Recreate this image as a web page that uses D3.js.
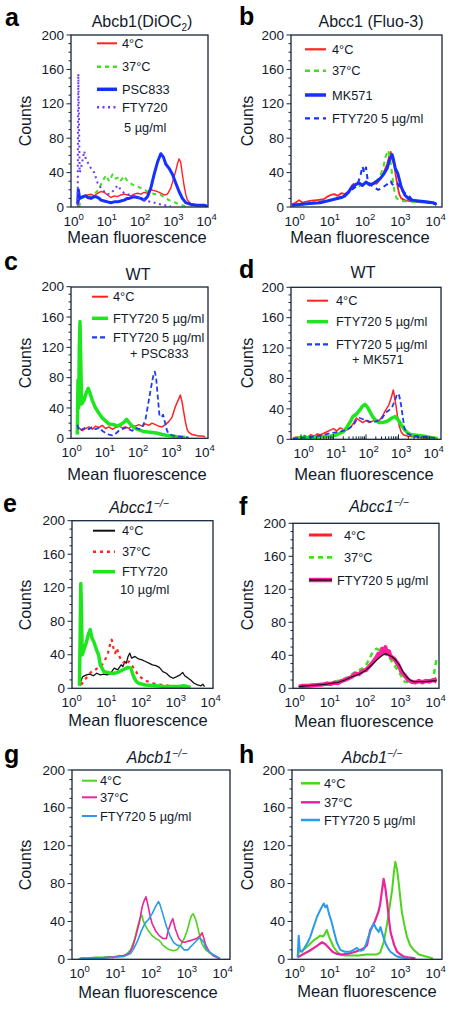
<!DOCTYPE html>
<html><head><meta charset="utf-8">
<script src="https://cdn.jsdelivr.net/npm/d3@7"></script>
<style>
body{margin:0;background:#fff}
svg{display:block}
text{font-family:"Liberation Sans",Arial,Helvetica,sans-serif;fill:#111a2b}
</style>
</head><body>
<svg id="chart" width="469" height="1013"></svg>
<script>
// ---------- DATA: [log10(fluorescence), counts] ----------
const yTickValues = [0,40,80,120,160,200];
const xTickExponents = [0,1,2,3,4];

// panel a  Abcb1(DiOC2)
const a_4C = [[0.2,0],[0.25,8],[0.3,12],[0.4,12],[0.5,14],[0.6,15],[0.7,13],[0.8,16],[0.9,18],[1.0,17],[1.1,14],[1.2,11],[1.3,13],[1.4,12],[1.5,14],[1.6,15],[1.7,14],[1.8,13],[1.9,15],[2.0,16],[2.1,15],[2.2,17],[2.3,16],[2.4,20],[2.5,19],[2.6,18],[2.7,16],[2.8,14],[2.9,15],[3.0,22],[3.1,35],[3.15,42],[3.2,50],[3.25,56],[3.3,52],[3.35,38],[3.4,25],[3.45,15],[3.5,8],[3.6,4],[3.7,3],[3.8,2],[3.9,2],[4.0,2],[4.1,1]];
const a_37C = [[0.25,0],[0.3,10],[0.4,11],[0.5,12],[0.6,13],[0.7,15],[0.8,19],[0.85,22],[0.95,30],[1.05,37],[1.15,30],[1.25,38],[1.35,33],[1.45,35],[1.5,31],[1.6,36],[1.7,30],[1.78,28],[1.85,26],[2.0,24],[2.1,22],[2.2,20],[2.3,18],[2.4,17],[2.5,15],[2.6,15],[2.7,14],[2.85,10],[3.0,7],[3.15,5],[3.3,2],[3.5,1]];
const a_PSC833 = [[0.2,3],[0.22,20],[0.26,10],[0.35,12],[0.45,13],[0.5,11],[0.6,10],[0.7,12],[0.75,12],[0.85,10],[0.9,8],[1.0,7],[1.1,6],[1.2,5],[1.3,6],[1.4,6],[1.5,7],[1.6,8],[1.7,10],[1.75,10],[1.9,12],[2.0,11],[2.1,10],[2.2,8],[2.3,12],[2.4,22],[2.5,38],[2.6,52],[2.7,62],[2.78,58],[2.85,50],[2.95,45],[3.05,38],[3.15,28],[3.25,18],[3.35,10],[3.45,5],[3.6,3],[3.8,2],[4.0,2],[4.1,1]];
const a_FTY = [[0.2,2],[0.21,80],[0.22,155],[0.24,100],[0.26,40],[0.3,45],[0.35,55],[0.4,65],[0.45,55],[0.5,52],[0.6,45],[0.7,40],[0.8,28],[0.9,22],[1.0,18],[1.1,15],[1.2,16],[1.3,20],[1.4,25],[1.5,20],[1.6,16],[1.8,14],[2.0,12],[2.2,8],[2.4,6],[2.6,4],[2.8,2],[3.0,1]];

// panel b  Abcc1 (Fluo-3)
const b_4C = [[0,3],[0.1,5],[0.2,8],[0.3,5],[0.5,7],[0.7,8],[0.9,9],[1.0,12],[1.1,14],[1.2,15],[1.3,13],[1.4,16],[1.5,15],[1.6,18],[1.7,25],[1.75,27],[1.8,25],[1.9,28],[2.0,26],[2.1,29],[2.2,25],[2.3,28],[2.4,27],[2.5,32],[2.6,40],[2.7,50],[2.75,58],[2.8,64],[2.85,55],[2.9,48],[2.95,35],[3.0,23],[3.05,14],[3.1,10],[3.2,8],[3.3,7],[3.5,6],[3.7,6],[3.9,5],[4.1,4]];
const b_37C = [[0,2],[0.2,3],[0.5,4],[0.8,6],[1.0,7],[1.2,9],[1.4,11],[1.5,14],[1.6,17],[1.7,22],[1.8,25],[1.9,24],[2.0,27],[2.2,26],[2.3,28],[2.4,30],[2.5,36],[2.6,48],[2.65,58],[2.72,66],[2.77,60],[2.82,45],[2.87,28],[2.92,15],[2.97,10],[3.1,7],[3.4,6],[3.8,5],[4.1,4]];
const b_MK571 = [[0,2],[0.2,3],[0.5,4],[0.8,5],[1.0,7],[1.2,9],[1.4,11],[1.5,13],[1.6,17],[1.7,23],[1.8,26],[1.9,28],[2.0,25],[2.1,29],[2.2,26],[2.3,27],[2.4,30],[2.5,33],[2.6,38],[2.7,45],[2.77,55],[2.84,61],[2.88,55],[2.93,45],[3.0,39],[3.1,23],[3.2,14],[3.3,10],[3.4,8],[3.6,7],[3.8,6],[4.0,5],[4.1,3]];
const b_FTY = [[0,2],[0.3,3],[0.6,5],[1.0,7],[1.3,10],[1.5,14],[1.7,20],[1.85,25],[1.95,38],[2.0,47],[2.05,40],[2.1,46],[2.15,30],[2.25,25],[2.35,22],[2.45,20],[2.55,22],[2.65,25],[2.75,28],[2.8,30],[2.85,26],[2.9,28],[3.0,27],[3.1,20],[3.2,16],[3.3,14],[3.4,9],[3.5,7],[3.7,6],[3.9,5],[4.1,3]];

// panel c  WT
const c_4C = [[0.22,8],[0.3,14],[0.4,10],[0.5,13],[0.6,15],[0.7,12],[0.8,16],[0.9,14],[1.0,17],[1.1,13],[1.2,15],[1.3,12],[1.4,14],[1.5,16],[1.6,14],[1.7,15],[1.8,13],[1.9,17],[2.0,16],[2.1,18],[2.2,16],[2.3,19],[2.4,17],[2.5,20],[2.6,18],[2.7,16],[2.8,15],[2.9,18],[3.0,22],[3.1,28],[3.2,42],[3.3,52],[3.35,57],[3.4,48],[3.45,35],[3.5,22],[3.55,12],[3.6,8],[3.7,5],[3.8,4],[3.9,3],[4.0,3],[4.1,2]];
const c_FTY = [[0.25,5],[0.27,77],[0.29,40],[0.31,120],[0.33,154],[0.35,110],[0.38,45],[0.45,50],[0.52,60],[0.58,66],[0.63,60],[0.7,50],[0.8,40],[0.9,33],[1.0,27],[1.1,23],[1.2,19],[1.35,18],[1.45,16],[1.55,18],[1.65,21],[1.73,25],[1.8,21],[1.93,15],[2.05,12],[2.23,9],[2.45,8],[2.63,7],[2.8,5],[2.93,4],[3.1,3],[3.25,2],[3.5,1]];
const c_FTY_PSC = [[0.25,18],[0.3,10],[0.4,12],[0.5,14],[0.6,12],[0.7,15],[0.8,12],[0.9,14],[1.0,10],[1.1,7],[1.2,5],[1.3,4],[1.4,6],[1.5,10],[1.6,12],[1.7,14],[1.8,12],[1.9,10],[2.0,14],[2.1,12],[2.2,14],[2.3,25],[2.4,50],[2.5,75],[2.55,85],[2.58,88],[2.62,80],[2.67,55],[2.72,30],[2.78,28],[2.83,31],[2.88,22],[2.95,10],[3.0,6],[3.1,4],[3.2,3],[3.4,2],[3.6,1]];

// panel d  WT
const d_4C = [[-0.25,1],[-0.15,3],[0,2],[0.1,5],[0.2,3],[0.3,6],[0.4,4],[0.5,7],[0.6,6],[0.7,8],[0.8,10],[0.9,12],[1.0,14],[1.1,11],[1.2,15],[1.3,13],[1.4,12],[1.5,15],[1.6,20],[1.7,28],[1.8,25],[1.9,22],[2.0,25],[2.1,22],[2.2,24],[2.3,26],[2.4,24],[2.5,30],[2.6,38],[2.7,45],[2.78,55],[2.84,65],[2.88,55],[2.92,45],[2.97,30],[3.02,18],[3.08,10],[3.15,6],[3.3,4],[3.5,3],[3.7,2],[4.0,1],[4.2,1]];
const d_FTY = [[-0.25,0],[0,2],[0.3,2],[0.6,3],[0.9,4],[1.1,6],[1.2,8],[1.3,10],[1.4,15],[1.5,22],[1.6,30],[1.7,33],[1.8,38],[1.9,44],[1.97,46],[2.05,42],[2.1,38],[2.2,30],[2.3,25],[2.4,22],[2.5,22],[2.6,23],[2.7,25],[2.8,28],[2.9,30],[3.0,25],[3.1,18],[3.2,12],[3.3,8],[3.4,6],[3.6,5],[3.8,4],[4.0,2],[4.2,1]];
const d_FTY_MK = [[-0.25,1],[0,2],[0.3,3],[0.6,5],[0.9,8],[1.2,10],[1.4,12],[1.6,18],[1.7,25],[1.8,28],[2.0,25],[2.2,22],[2.4,25],[2.5,28],[2.6,35],[2.7,38],[2.8,42],[2.9,52],[2.96,60],[3.02,58],[3.08,45],[3.13,30],[3.18,15],[3.25,8],[3.4,5],[3.6,4],[3.9,3],[4.1,2],[4.2,1]];

// panel e  Abcc1-/-
const e_4C = [[0.32,3],[0.35,10],[0.4,14],[0.5,16],[0.6,17],[0.7,15],[0.8,18],[0.9,16],[1.0,17],[1.1,16],[1.2,18],[1.3,24],[1.4,22],[1.5,28],[1.55,26],[1.6,32],[1.65,30],[1.7,38],[1.75,42],[1.8,36],[1.9,38],[2.0,35],[2.1,34],[2.2,32],[2.3,30],[2.4,28],[2.5,27],[2.6,25],[2.7,20],[2.8,18],[2.9,14],[3.0,12],[3.1,14],[3.2,16],[3.27,19],[3.33,15],[3.4,13],[3.5,10],[3.6,6],[3.7,4],[3.8,3],[3.85,5],[3.9,2]];
const e_37C = [[0.35,4],[0.45,10],[0.55,15],[0.65,20],[0.75,22],[0.85,25],[0.95,28],[1.05,35],[1.12,42],[1.18,52],[1.23,58],[1.28,48],[1.33,42],[1.38,48],[1.43,40],[1.5,34],[1.58,30],[1.65,28],[1.72,32],[1.8,28],[1.9,22],[2.0,15],[2.1,12],[2.2,9],[2.35,7],[2.5,5],[2.7,4],[2.9,3],[3.1,2],[3.3,1]];
const e_FTY = [[0.3,3],[0.32,60],[0.34,125],[0.36,90],[0.38,40],[0.42,45],[0.5,55],[0.56,65],[0.61,70],[0.66,60],[0.72,55],[0.8,45],[0.85,40],[0.9,28],[0.95,24],[1.0,20],[1.1,19],[1.2,18],[1.3,18],[1.4,19],[1.5,21],[1.6,23],[1.7,25],[1.78,24],[1.85,15],[1.92,9],[2.0,6],[2.2,4],[2.5,3],[2.8,2],[3.1,2],[3.3,3],[3.5,1]];

// panel f  Abcc1-/-
const f_4C = [[0.2,1],[0.4,3],[0.6,4],[0.8,4],[1.0,5],[1.2,6],[1.4,8],[1.6,12],[1.8,16],[2.0,20],[2.2,26],[2.35,34],[2.5,40],[2.6,46],[2.7,42],[2.8,40],[2.9,35],[3.0,28],[3.1,22],[3.2,14],[3.3,10],[3.4,7],[3.6,8],[3.8,9],[4.0,10],[4.1,12]];
const f_37C = [[0.2,2],[0.5,4],[0.8,5],[1.0,6],[1.2,8],[1.4,10],[1.6,14],[1.8,20],[2.0,24],[2.1,28],[2.2,36],[2.3,45],[2.4,48],[2.5,46],[2.6,42],[2.7,40],[2.8,35],[2.9,28],[3.0,22],[3.1,15],[3.15,10],[3.2,8],[3.4,7],[3.6,8],[3.8,9],[4.0,10],[4.1,36]];
const f_FTY = [[0.19,2],[0.3,3],[0.5,3],[0.7,4],[0.9,5],[1.0,6],[1.1,5],[1.2,7],[1.3,6],[1.4,9],[1.5,10],[1.6,12],[1.7,14],[1.8,18],[1.9,17],[2.0,21],[2.1,22],[2.2,27],[2.3,32],[2.4,38],[2.45,42],[2.5,40],[2.55,48],[2.6,44],[2.65,50],[2.7,42],[2.75,45],[2.8,38],[2.9,36],[3.0,30],[3.05,26],[3.1,20],[3.2,16],[3.3,10],[3.4,8],[3.5,7],[3.6,9],[3.7,7],[3.8,9],[3.9,8],[4.0,10],[4.1,8]];
const f_FTY_mean = [[0.19,2],[0.4,3],[0.7,4],[1.0,5],[1.1,6],[1.3,7],[1.5,10],[1.7,14],[1.9,17],[2.1,22],[2.25,28],[2.4,34],[2.5,38],[2.6,41],[2.65,42],[2.75,40],[2.85,38],[2.95,34],[3.05,28],[3.15,20],[3.25,14],[3.35,10],[3.45,8],[3.6,8],[3.8,8],[4.0,9],[4.1,9]];

// panel g  Abcb1-/-
const g_4C = [[0.04,0],[0.1,1],[0.3,1],[0.5,2],[0.7,2],[0.9,3],[1.0,2],[1.1,3],[1.2,4],[1.3,3],[1.4,6],[1.5,10],[1.6,20],[1.7,35],[1.75,42],[1.81,47],[1.86,40],[1.92,35],[2.0,30],[2.1,25],[2.2,22],[2.3,20],[2.4,15],[2.5,12],[2.6,10],[2.7,9],[2.8,10],[2.9,15],[3.0,22],[3.08,30],[3.15,40],[3.2,46],[3.25,48],[3.3,44],[3.35,38],[3.4,30],[3.45,22],[3.5,16],[3.6,10],[3.7,7],[3.8,5],[3.9,3],[4.0,1]];
const g_37C = [[0.1,1],[0.5,1],[0.9,2],[1.1,3],[1.3,4],[1.45,6],[1.55,12],[1.65,25],[1.75,40],[1.82,55],[1.88,62],[1.93,66],[1.98,58],[2.05,45],[2.1,38],[2.2,30],[2.3,25],[2.4,22],[2.5,22],[2.55,30],[2.62,38],[2.68,43],[2.75,32],[2.85,22],[2.95,18],[3.0,18],[3.2,20],[3.35,22],[3.45,25],[3.5,28],[3.55,22],[3.6,15],[3.7,8],[3.8,4],[3.9,2],[4.0,1]];
const g_FTY = [[0.1,1],[0.5,1],[1.0,2],[1.3,3],[1.5,6],[1.6,12],[1.7,20],[1.8,30],[1.9,38],[2.0,42],[2.1,48],[2.2,56],[2.28,61],[2.32,58],[2.4,48],[2.5,35],[2.6,25],[2.7,18],[2.8,15],[2.9,14],[3.0,10],[3.1,10],[3.2,14],[3.3,18],[3.4,22],[3.45,22],[3.5,20],[3.55,18],[3.6,12],[3.7,8],[3.8,5],[3.9,3],[4.0,1]];

// panel h  Abcb1-/-
const h_4C = [[0.16,3],[0.2,8],[0.3,9],[0.45,14],[0.61,20],[0.7,22],[0.8,25],[0.88,24],[0.95,28],[0.99,31],[1.05,24],[1.12,18],[1.18,13],[1.28,8],[1.37,5],[1.5,4],[1.7,4],[1.9,4],[2.1,5],[2.3,5],[2.4,5],[2.5,7],[2.6,18],[2.7,38],[2.78,58],[2.84,73],[2.9,95],[2.93,103],[2.98,95],[3.03,80],[3.08,62],[3.12,49],[3.2,34],[3.26,24],[3.35,15],[3.45,10],[3.6,5],[3.8,3],[4.0,1]];
const h_37C = [[0.16,2],[0.3,5],[0.5,9],[0.7,14],[0.85,18],[0.95,16],[1.05,12],[1.15,8],[1.25,6],[1.4,5],[1.6,6],[1.8,8],[1.95,10],[2.05,12],[2.13,15],[2.22,31],[2.3,36],[2.36,41],[2.45,50],[2.5,58],[2.55,72],[2.6,85],[2.65,75],[2.7,60],[2.75,42],[2.8,28],[2.9,15],[2.98,8],[3.08,5],[3.17,3],[3.3,2],[3.5,1]];
const h_FTY = [[0.16,2],[0.19,25],[0.22,10],[0.28,8],[0.35,12],[0.45,18],[0.52,24],[0.6,33],[0.71,45],[0.8,52],[0.9,59],[0.95,55],[0.99,57],[1.05,48],[1.12,40],[1.18,31],[1.27,18],[1.37,10],[1.5,8],[1.65,8],[1.75,10],[1.84,12],[1.95,9],[2.03,10],[2.1,16],[2.17,24],[2.25,32],[2.32,38],[2.38,33],[2.46,29],[2.51,34],[2.58,25],[2.65,17],[2.72,12],[2.79,8],[2.9,5],[2.98,3],[3.1,2],[3.3,1]];

// ---------- STYLES ----------
const RED="#ff2323", LIME="#3ee21e", BLUE="#1530ff", VIOLET="#6a3cff", GREEN="#1ee61e",
      BLACK="#111111", MAG="#ff1f9e", G2="#4cd41c", M2="#e8269a", LB="#2b9be8";

const panels = [
 {letter:"a", lp:[5,26], title:[{t:"Abcb1(DiOC"},{t:"2",sub:true},{t:")",back:true}], tp:[142,27],
  box:[71,208,35,207], xr:[71,204], yr:[207,35], ylab:[30.5,121], xlab:[137,243],
  series:[{d:a_4C,c:RED,w:1.4},{d:a_37C,c:LIME,w:2,dash:"4,4"},{d:a_PSC833,c:BLUE,w:3},{d:a_FTY,c:VIOLET,w:2,dash:"2,3.5"}],
  legend:{lx:[97,117], tx:122, items:[{s:0,y:43.3,t:["4°C"],w:2},{s:1,y:66.7,t:["37°C"],w:2.5},{s:2,y:89.3,t:["PSC833"],w:3.5},{s:3,y:107.3,t:["FTY720","5 µg/ml"],w:2.5,t2:[124,127]}]}},
 {letter:"b", lp:[239,25], title:[{t:"Abcc1 (Fluo-3)"}], tp:[371,27],
  box:[291,442,35,207], xr:[292,433], yr:[207,35], ylab:[252.5,121], xlab:[360,243],
  series:[{d:b_4C,c:RED,w:1.8},{d:b_37C,c:LIME,w:2,dash:"5,4"},{d:b_MK571,c:BLUE,w:3},{d:b_FTY,c:BLUE,w:2,dash:"5,4"}],
  legend:{lx:[305,326], tx:332, items:[{s:0,y:49.3,t:["4°C"],w:2.2},{s:1,y:70.7,t:["37°C"],w:2.5},{s:2,y:95,t:["MK571"],w:3.5},{s:3,y:118.3,t:["FTY720 5 µg/ml"],w:2.2}]}},
 {letter:"c", lp:[4,270], title:[{t:"WT"}], tp:[138,280],
  box:[71,208,287,438.3], xr:[69,202], yr:[438.3,286.7], ylab:[30.5,363], xlab:[137,480],
  series:[{d:c_4C,c:RED,w:1.5},{d:c_FTY,c:GREEN,w:3.5},{d:c_FTY_PSC,c:"#1e3cf0",w:1.8,dash:"5,3"}],
  legend:{lx:[92,108], tx:113, items:[{s:0,y:296.7,t:["4°C"],w:2},{s:1,y:318.3,t:["FTY720 5 µg/ml"],w:3.5},{s:2,y:337.3,t:["FTY720 5 µg/ml","+ PSC833"],w:2.2,t2:[130,353.3]}]}},
 {letter:"d", lp:[239,278], title:[{t:"WT"}], tp:[363,278],
  box:[291,441,287.3,439.3], xr:[301,431], yr:[439.3,287.3], ylab:[252.5,363], xlab:[364,480], minorX:true,
  series:[{d:d_4C,c:RED,w:1.5},{d:d_FTY,c:GREEN,w:3.5},{d:d_FTY_MK,c:"#1e3cf0",w:1.8,dash:"5,3"}],
  legend:{lx:[307,328], tx:336, items:[{s:0,y:300.7,t:["4°C"],w:2},{s:1,y:321.7,t:["FTY720 5 µg/ml"],w:3.5},{s:2,y:344.3,t:["FTY720 5 µg/ml","+ MK571"],w:2.2,t2:[352,359.3]}]}},
 {letter:"e", lp:[3,512], title:[{t:"Abcc1",it:true},{t:"−/−",sup:true}], tp:[139,513],
  box:[72,213,520.7,688.3], xr:[69,208], yr:[688.3,520.7], ylab:[30.5,605], xlab:[138,726],
  series:[{d:e_4C,c:BLACK,w:1.3},{d:e_37C,c:RED,w:2.2,dash:"3,4"},{d:e_FTY,c:GREEN,w:3.5}],
  legend:{lx:[93,115], tx:122, items:[{s:0,y:530.7,t:["4°C"],w:2},{s:1,y:551.7,t:["37°C"],w:2.5},{s:2,y:571.7,t:["FTY720","10 µg/ml"],w:3.5,t2:[120,589.3]}]}},
 {letter:"f", lp:[239,515], title:[{t:"Abcc1",it:true},{t:"−/−",sup:true}], tp:[379,512],
  box:[293,439,523.3,688.3], xr:[292,433], yr:[688.3,523.3], ylab:[252.5,605], xlab:[364,727],
  series:[{d:f_4C,c:RED,w:3},{d:f_37C,c:LIME,w:2.5,dash:"5,4"},{d:f_FTY,c:MAG,w:4},{d:f_FTY_mean,c:BLACK,w:1.2}],
  legend:{lx:[309,332], tx:344, items:[{s:0,y:535,t:["4°C"],w:3},{s:1,y:557.3,t:["37°C"],w:2.8},{s:2,y:580,t:["FTY720 5 µg/ml"],w:4.5,over:3,tx:337}]}},
 {letter:"g", lp:[4,763], title:[{t:"Abcb1",it:true},{t:"−/−",sup:true}], tp:[157,763],
  box:[72,230,770,959.3], xr:[77,220], yr:[959.3,770], ylab:[30.5,865], xlab:[148,998],
  series:[{d:g_4C,c:G2,w:1.6},{d:g_37C,c:M2,w:1.6},{d:g_FTY,c:LB,w:1.6}],
  legend:{lx:[82,97], tx:100, items:[{s:0,y:780.7,t:["4°C"],w:2},{s:1,y:797.3,t:["37°C"],w:2},{s:2,y:816,t:["FTY720 5 µg/ml"],w:2}]}},
 {letter:"h", lp:[239,763], title:[{t:"Abcb1",it:true},{t:"−/−",sup:true}], tp:[372,763],
  box:[292,442,770,959.3], xr:[292,433], yr:[959.3,770], ylab:[253,865], xlab:[367,997],
  series:[{d:h_4C,c:G2,w:2},{d:h_37C,c:M2,w:2.2},{d:h_FTY,c:LB,w:2}],
  legend:{lx:[301,320], tx:324, items:[{s:0,y:783.3,t:["4°C"],w:2.5},{s:1,y:802.3,t:["37°C"],w:2.5},{s:2,y:820,t:["FTY720 5 µg/ml"],w:2.5}]}}
];

const svg = d3.select("#chart");
const AX = "#16263a";

panels.forEach((p, pi) => {
  const g = svg.append("g");
  const [bx0,bx1,by0,by1] = p.box;
  const x = d3.scaleLog().domain([1,1e4]).range(p.xr);
  const y = d3.scaleLinear().domain([0,200]).range(p.yr);
  const clipId = "clip"+pi;
  svg.append("clipPath").attr("id",clipId).append("rect")
     .attr("x",bx0).attr("y",by0).attr("width",bx1-bx0).attr("height",by1-by0);

  const line = d3.line().x(d=>x(Math.pow(10,d[0]))).y(d=>y(d[1]));
  const dg = g.append("g").attr("clip-path",`url(#${clipId})`);
  p.series.forEach(s=>{
    dg.append("path").attr("d",line(s.d)).attr("fill","none")
      .attr("stroke",s.c).attr("stroke-width",s.w)
      .attr("stroke-linejoin","round")
      .attr("stroke-dasharray",s.dash||null);
  });

  // frame
  g.append("rect").attr("x",bx0).attr("y",by0).attr("width",bx1-bx0).attr("height",by1-by0)
   .attr("fill","none").attr("stroke",AX).attr("stroke-width",1.3);

  // y ticks
  d3.range(0,201,10).forEach(v=>{
    const major = v%40===0;
    g.append("line").attr("x1",bx0-(major?4.5:2.5)).attr("x2",bx0)
     .attr("y1",y(v)).attr("y2",y(v)).attr("stroke",AX).attr("stroke-width",1);
  });
  yTickValues.forEach(v=>{
    g.append("text").attr("x",bx0-7).attr("y",y(v)+4.6).attr("text-anchor","end")
     .attr("font-size",13.5).text(v);
  });

  // minor x ticks (panel d)
  if (p.minorX) {
    for (let k=0;k<4;k++) for (let m=1;m<10;m++){
      const xv = x(m*Math.pow(10,k));
      g.append("line").attr("x1",xv).attr("x2",xv).attr("y1",by1).attr("y2",by1-(m===1?5:3))
       .attr("stroke",AX).attr("stroke-width",1);
    }
  }

  // x tick labels
  xTickExponents.forEach(k=>{
    const t = g.append("text").attr("x",x(Math.pow(10,k))-7.5).attr("y",by1+18.5).attr("font-size",13.5);
    t.append("tspan").text("10");
    t.append("tspan").attr("dy",-5.5).attr("font-size",9.5).text(k);
  });

  // axis titles
  g.append("text").attr("transform",`translate(${p.ylab[0]},${p.ylab[1]}) rotate(-90)`)
   .attr("text-anchor","middle").attr("font-size",16).text("Counts");
  g.append("text").attr("x",p.xlab[0]).attr("y",p.xlab[1]).attr("text-anchor","middle")
   .attr("font-size",16.5).text("Mean fluorescence");

  // panel letter
  g.append("text").attr("x",p.lp[0]).attr("y",p.lp[1]).attr("font-size",25).attr("font-weight","bold")
   .style("fill","#000").text(p.letter);

  // title
  const tt = g.append("text").attr("x",p.tp[0]).attr("y",p.tp[1]).attr("text-anchor","middle").attr("font-size",16);
  p.title.forEach(part=>{
    const ts = tt.append("tspan").text(part.t);
    if (part.it) ts.attr("font-style","italic");
    if (part.sub) ts.attr("dy",4).attr("font-size",10);
    if (part.back) ts.attr("dy",-4);
    if (part.sup) ts.attr("dy",-6.5).attr("font-size",10.5).attr("font-style","italic");
  });

  // legend
  const L = p.legend;
  L.items.forEach(it=>{
    const s = p.series[it.s];
    g.append("line").attr("x1",L.lx[0]).attr("x2",L.lx[1]).attr("y1",it.y).attr("y2",it.y)
     .attr("stroke",s.c).attr("stroke-width",it.w).attr("stroke-dasharray",s.dash||null);
    if (it.over!==undefined) {
      const o = p.series[it.over];
      g.append("line").attr("x1",L.lx[0]).attr("x2",L.lx[1]).attr("y1",it.y).attr("y2",it.y)
       .attr("stroke",o.c).attr("stroke-width",1.5);
    }
    g.append("text").attr("x",it.tx||L.tx).attr("y",it.y+4.5).attr("font-size",12.8).text(it.t[0]);
    if (it.t.length>1) {
      g.append("text").attr("x",it.t2[0]).attr("y",it.t2[1]+4.5).attr("font-size",12.8).text(it.t[1]);
    }
  });
});
</script>
</body></html>
